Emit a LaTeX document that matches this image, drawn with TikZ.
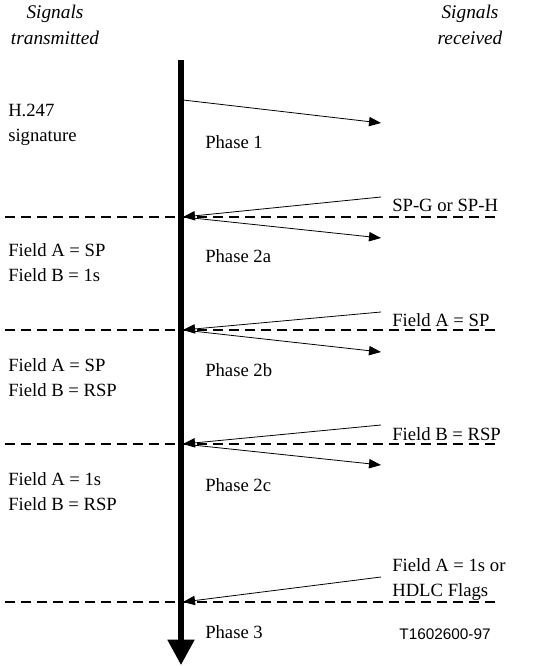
\documentclass[tikz,border=0pt]{standalone}
\usepackage{fontspec}
\setmainfont{Liberation Serif}
\setsansfont{Liberation Sans}
\usetikzlibrary{arrows.meta}

\begin{document}
\begin{tikzpicture}[x=0.75pt,y=-0.75pt,
    sig/.style={-{Triangle[length=9pt,width=7pt]}, line width=0.6pt},
    cut/.style={line width=1.1pt, dash pattern=on 7.5pt off 4.5pt},
    txt/.style={inner sep=0pt, align=left, font=\fontsize{14}{18.75}\selectfont},
    head/.style={inner sep=0pt, align=center, font=\fontsize{14.5}{19.5}\selectfont\itshape}]
    \useasboundingbox (0,0) rectangle (538,666);
    % time axis
    \coordinate (top) at (181,60);
    \coordinate (bot) at (181,665);
    \draw[line width=3.8pt, -{Triangle[length=19pt,width=19.5pt]}] (top) -- (bot);
    % headings
    \node[head] (tx) at (55,25) {Signals\\transmitted};
    \node[head] (rx) at (470,25) {Signals\\received};
    % phase boundaries
    \foreach \y/\n in {217/a,330/b,444/c,602/d}
        {\coordinate (l\n) at (5,\y);
         \coordinate (r\n) at (495,\y);
         \draw[cut] (l\n) -- (r\n);
         \coordinate (ax\n) at (183,\y);}
    % signals
    \coordinate (s1) at (183,100);
    \coordinate (e1) at (381,123);
    \draw[sig] (s1) -- (e1);
    \coordinate (ina) at (381,197);
    \coordinate (outa) at (381,238);
    \draw[sig] (ina) -- (axa);
    \draw[sig] (axa) -- (outa);
    \coordinate (inb) at (381,312);
    \coordinate (outb) at (381,352);
    \draw[sig] (inb) -- (axb);
    \draw[sig] (axb) -- (outb);
    \coordinate (inc) at (381,425);
    \coordinate (outc) at (381,465);
    \draw[sig] (inc) -- (axc);
    \draw[sig] (axc) -- (outc);
    \coordinate (ind) at (381,577);
    \draw[sig] (ind) -- (axd);
    % received
    \node[txt, anchor=west] (ra) at (392,205) {SP-G or SP-H};
    \node[txt, anchor=west] (rb) at (392,320) {Field A = SP};
    \node[txt, anchor=west] (rc) at (392,434) {Field B = RSP};
    \node[txt, anchor=west] (rd) at (392,580) {Field A = 1s or\\HDLC Flags};
    % transmitted
    \node[txt, anchor=west] (t1) at (8,125) {H.247\\signature};
    \node[txt, anchor=west] (t2) at (8,263) {Field A = SP\\Field B = 1s};
    \node[txt, anchor=west] (t3) at (8,378) {Field A = SP\\Field B = RSP};
    \node[txt, anchor=west] (t4) at (8,492) {Field A = 1s\\Field B = RSP};
    % phases
    \node[txt, anchor=west] (p1) at (205,142) {Phase 1};
    \node[txt, anchor=west] (p2a) at (205,256) {Phase 2a};
    \node[txt, anchor=west] (p2b) at (205,370) {Phase 2b};
    \node[txt, anchor=west] (p2c) at (205,485) {Phase 2c};
    \node[txt, anchor=west] (p3) at (205,632) {Phase 3};
    \node[inner sep=0pt, font=\sffamily\fontsize{11.5}{12}\selectfont] (fig) at (445,634) {T1602600-97};
\end{tikzpicture}
\end{document}
